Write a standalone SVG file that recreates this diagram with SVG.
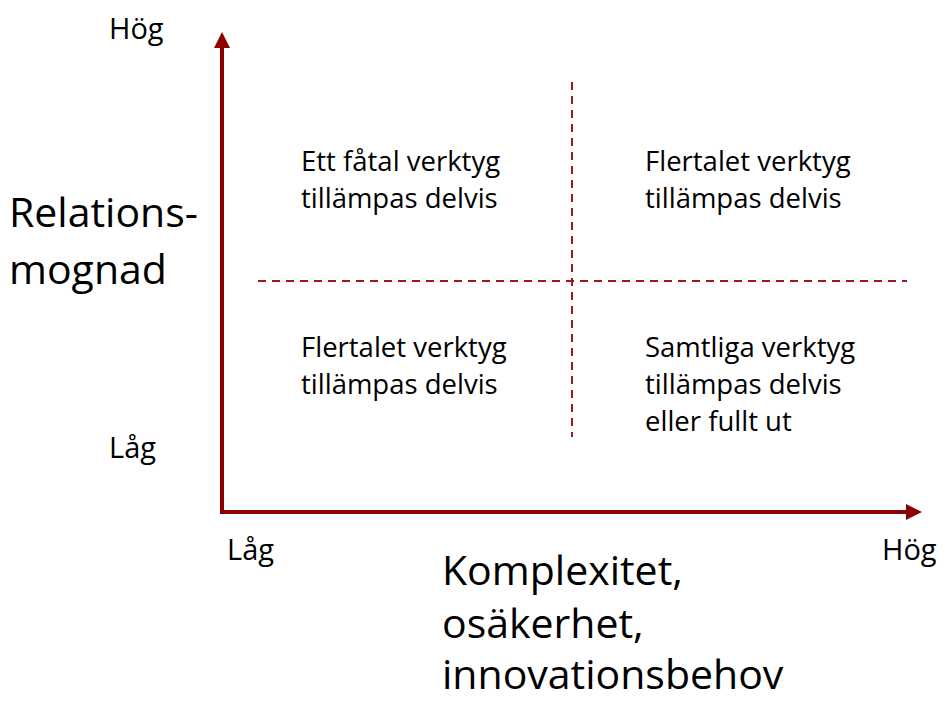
<svg xmlns="http://www.w3.org/2000/svg" width="947" height="702" viewBox="0 0 947 702">
<style>
.t{font-family:"Open Sans","Liberation Sans",sans-serif;fill:#000}
.s{font-size:29px}
.q{font-size:27.5px}
.b{font-size:41px}
.ax{stroke:#8B0000;stroke-width:4;fill:none}
.d{stroke:#A0141E;stroke-width:2;stroke-dasharray:8 6;fill:none}
</style>
<defs>
<marker id="ah" viewBox="0 0 10 10" refX="0" refY="5" markerWidth="4" markerHeight="4" markerUnits="strokeWidth" orient="auto">
<path d="M0,0 L10,5 L0,10 z" fill="#8B0000"/>
</marker>
</defs>
<rect width="947" height="702" fill="#fff"/>
<g id="connectors">
<line class="d" x1="572" y1="82" x2="572" y2="437"/>
<line class="d" x1="258" y1="281" x2="907" y2="281"/>
<path class="ax" d="M222,512 L222,48" marker-end="url(#ah)"/>
<path class="ax" d="M220,512 L906,512" marker-end="url(#ah)"/>
</g>
<g id="labels">
<text class="t s" x="109" y="39">Hög</text>
<text class="t s" x="109" y="458">Låg</text>
<text class="t s" x="227" y="560">Låg</text>
<text class="t s" x="882" y="560">Hög</text>
<text class="t b" x="9" y="227">Relations-</text>
<text class="t b" x="9" y="284">mognad</text>
<text class="t b" x="442" y="585">Komplexitet,</text>
<text class="t b" x="442" y="638">osäkerhet,</text>
<text class="t b" x="442" y="689">innovationsbehov</text>
</g>
<g id="q1"><text class="t q" x="301" y="171">Ett fåtal verktyg</text><text class="t q" x="301" y="208">tillämpas delvis</text></g>
<g id="q2"><text class="t q" x="645" y="171">Flertalet verktyg</text><text class="t q" x="645" y="208">tillämpas delvis</text></g>
<g id="q3"><text class="t q" x="301" y="357">Flertalet verktyg</text><text class="t q" x="301" y="394">tillämpas delvis</text></g>
<g id="q4"><text class="t q" x="645" y="357">Samtliga verktyg</text><text class="t q" x="645" y="394">tillämpas delvis</text><text class="t q" x="645" y="431">eller fullt ut</text></g>
</svg>
